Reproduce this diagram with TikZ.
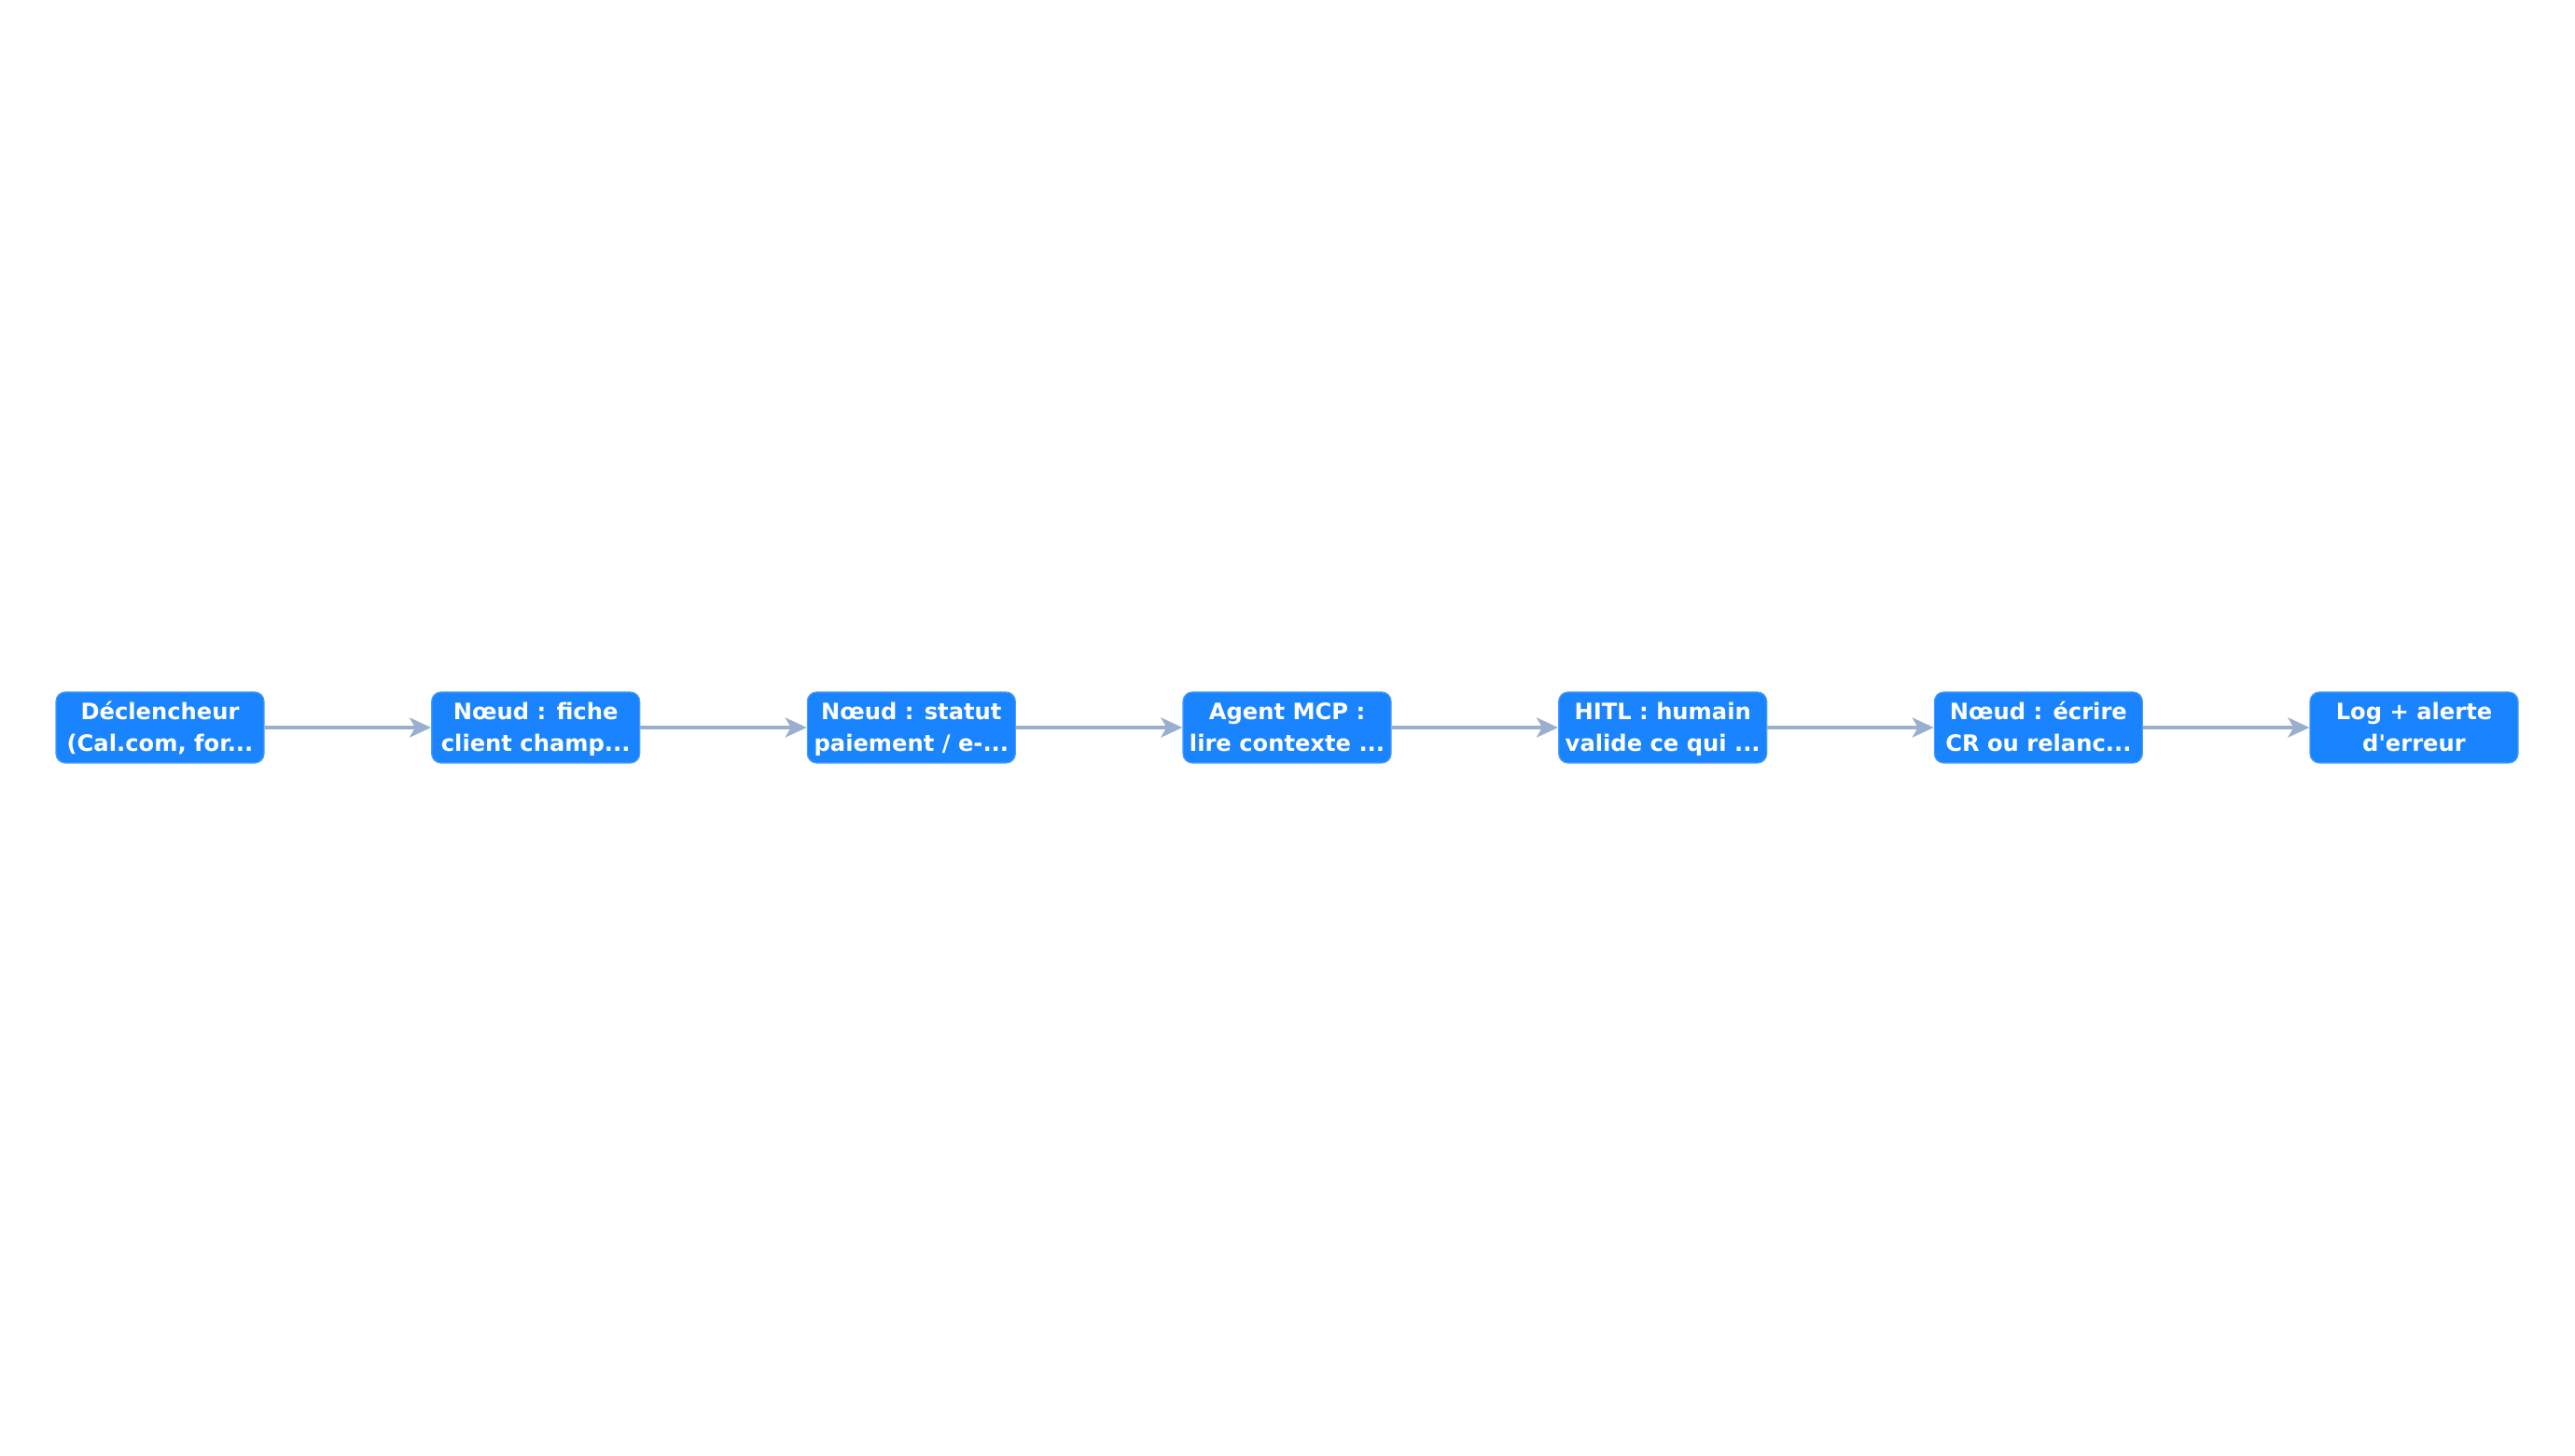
\documentclass[tikz,border=0pt]{standalone}
\usepackage{fontspec}
\setmainfont{DejaVu Sans}
\usetikzlibrary{arrows.meta}
\definecolor{boxblue}{HTML}{1A84FF}
\definecolor{boxedge}{HTML}{4A9CFF}
\definecolor{arrowc}{HTML}{9AAED0}
\newcommand{\topstrut}{\rule{0pt}{13.6pt}}
\tikzset{
  stepbox/.style={draw=boxedge, line width=0.6pt, fill=boxblue, rounded corners=5pt,
    minimum width=111.5pt, minimum height=38pt, inner sep=0pt,
    text=white, align=center, font=\fontsize{12.1}{16.8}\selectfont\bfseries},
  flow/.style={draw=arrowc, line width=2.2pt,
    -{Stealth[length=11.5pt, width=10.5pt, inset=3pt]}}
}
\begin{document}
\begin{tikzpicture}[x=1pt,y=1pt]
\useasboundingbox (0,0) rectangle (1380,780);
\node[stepbox] (n1) at (85.75,390) {\topstrut Déclencheur\\\strut(Cal.com, for...};
\node[stepbox] (n2) at (287.08,390) {\topstrut Nœud : fiche\\\strut client champ...};
\node[stepbox] (n3) at (488.42,390) {\topstrut Nœud : statut\\\strut paiement / e-...};
\node[stepbox] (n4) at (689.75,390) {\topstrut Agent MCP :\\\strut lire contexte ...};
\node[stepbox] (n5) at (891.08,390) {\topstrut HITL : humain\\\strut valide ce qui ...};
\node[stepbox] (n6) at (1092.42,390) {\topstrut Nœud : écrire\\\strut CR ou relanc...};
\node[stepbox] (n7) at (1293.75,390) {\topstrut Log + alerte\\\strut d\textquotesingle erreur};
\foreach \a/\b in {n1/n2,n2/n3,n3/n4,n4/n5,n5/n6,n6/n7}
  \draw[flow] (\a) -- (\b);
\end{tikzpicture}
\end{document}
